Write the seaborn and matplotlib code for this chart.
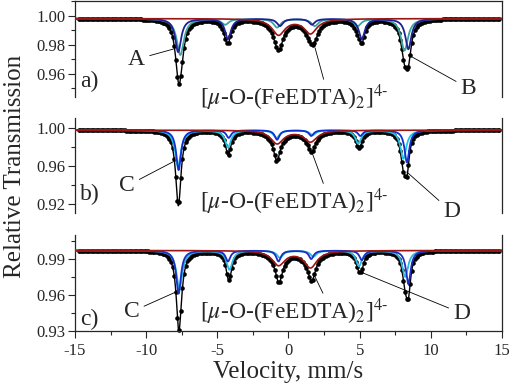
import numpy as np
import pandas as pd
import matplotlib
matplotlib.use("Agg")
import matplotlib.pyplot as plt
import seaborn as sns
from matplotlib.ticker import MultipleLocator, FormatStrFormatter

sns.set_style("ticks")
plt.rcParams['font.family'] = ['Liberation Serif', 'DejaVu Serif']
plt.rcParams['mathtext.fontset'] = 'stix'
plt.rcParams['axes.unicode_minus'] = False

# x axis
velocity_ticks = [-15, -10, -5, 0, 5, 10, 15]
panel_names = ["a)", "b)", "c)"]
label_a, label_b, label_c, label_d = "A", "B", "C", "D"

# --- panel a: line positions (mm/s), depths and half widths
a_baseline = 0.998
a_s1_pos = [-7.75, -4.25, -0.60, 1.65, 5.15, 8.42]
a_s1_depth = [0.023, 0.014, 0.005, 0.004, 0.014, 0.021]
a_s2_pos = [-7.60, -4.45, -0.80, 1.85, 4.85, 8.15]
a_s2_depth = [0.025, 0.004, 0.006, 0.005, 0.005, 0.022]
a_d_pos = [-0.70, 1.55]
a_d_depth = [0.011, 0.010]
a_hwhm = [0.25, 0.30, 0.55]

# --- panel b
b_baseline = 0.998
b_s1_pos = [-7.72, -4.20, -0.80, 1.60, 5.05, 8.32]
b_s1_depth = [0.042, 0.008, 0.010, 0.006, 0.006, 0.034]
b_s2_pos = [-7.76, -4.25, -0.85, 1.70, 4.90, 8.07]
b_s2_depth = [0.038, 0.018, 0.008, 0.005, 0.014, 0.030]
b_d_pos = [-0.80, 1.55]
b_d_depth = [0.014, 0.012]
b_hwhm = [0.20, 0.25, 0.55]

# --- panel c
c_baseline = 0.9972
c_s1_pos = [-7.72, -4.25, -0.70, 1.60, 5.15, 8.42]
c_s1_depth = [0.036, 0.009, 0.009, 0.007, 0.008, 0.028]
c_s2_pos = [-7.66, -4.15, -0.60, 1.75, 4.95, 8.20]
c_s2_depth = [0.032, 0.016, 0.006, 0.005, 0.013, 0.022]
c_d_pos = [-0.70, 1.55]
c_d_depth = [0.012, 0.014]
c_hwhm = [0.20, 0.25, 0.55]

# axis ranges and ticks
ylims = [(0.944, 1.010), (0.9108, 1.0108), (0.930, 1.010)]
yticks = [[0.96, 0.98, 1.00], [0.92, 0.96, 1.00], [0.93, 0.96, 0.99]]
yminor = [0.01, 0.02, 0.015]

sextet_colors = [("#1f1f96", "#3aa6a0"), ("#1030d0", "#22c4e6"), ("#1a2fc0", "#2fb8e4")]
red = "#9c1515"

panels = [
    (a_baseline, a_s1_pos, a_s1_depth, a_s2_pos, a_s2_depth, a_d_pos, a_d_depth, a_hwhm),
    (b_baseline, b_s1_pos, b_s1_depth, b_s2_pos, b_s2_depth, b_d_pos, b_d_depth, b_hwhm),
    (c_baseline, c_s1_pos, c_s1_depth, c_s2_pos, c_s2_depth, c_d_pos, c_d_depth, c_hwhm),
]


def lorentz_lines(v, pos, depth, w):
    out = np.zeros_like(v)
    for p, d in zip(pos, depth):
        out += d / (1 + ((v - p) / w) ** 2)
    return out


v_fit = np.linspace(-15, 15, 1200)
v_chan = np.linspace(-14.75, 14.8, 256)

fig = plt.figure(figsize=(5.17, 3.88), dpi=100)
boxes = [[0.145, 0.750, 0.826, 0.247],
         [0.145, 0.451, 0.826, 0.245],
         [0.145, 0.147, 0.826, 0.247]]

TICK_FS = 12
ANN_FS = 17

axes = []
for i, (base, s1p, s1d, s2p, s2d, dp, dd, hw) in enumerate(panels):
    ax = fig.add_axes(boxes[i])
    axes.append(ax)
    s1 = base - lorentz_lines(v_fit, s1p, s1d, hw[0])
    s2 = base - lorentz_lines(v_fit, s2p, s2d, hw[1])
    db = base - lorentz_lines(v_fit, dp, dd, hw[2])
    total = base - (lorentz_lines(v_fit, s1p, s1d, hw[0]) + lorentz_lines(v_fit, s2p, s2d, hw[1])
                    + lorentz_lines(v_fit, dp, dd, hw[2]))
    dots = base - (lorentz_lines(v_chan, s1p, s1d, hw[0]) + lorentz_lines(v_chan, s2p, s2d, hw[1])
                   + lorentz_lines(v_chan, dp, dd, hw[2]))

    ax.plot(v_chan, dots, 'o', color='black', ms=3.3, mew=0, clip_on=False, zorder=2)
    sns.lineplot(x=v_fit, y=total, ax=ax, color='black', lw=1.0, zorder=3)
    sns.lineplot(x=v_fit, y=s2, ax=ax, color=sextet_colors[i][1], lw=1.3, zorder=4)
    sns.lineplot(x=v_fit, y=s1, ax=ax, color=sextet_colors[i][0], lw=1.3, zorder=5)
    sns.lineplot(x=v_fit, y=db, ax=ax, color=red, lw=1.2, zorder=6)

    ax.set_xlim(-15, 15)
    ax.set_ylim(*ylims[i])
    ax.set_yticks(yticks[i])
    ax.yaxis.set_minor_locator(MultipleLocator(yminor[i]))
    ax.yaxis.set_major_formatter(FormatStrFormatter('%.2f'))
    ax.tick_params(axis='y', which='major', direction='out', length=5, width=0.8, labelsize=TICK_FS, pad=2)
    ax.tick_params(axis='y', which='minor', direction='out', length=3, width=0.8)
    ax.tick_params(axis='y', which='both', right=False)
    for s in ax.spines.values():
        s.set_linewidth(0.9)
    ax.spines['top'].set_visible(i == 0)
    ax.spines['bottom'].set_visible(i == 2)
    if i < 2:
        ax.tick_params(axis='x', which='both', bottom=False, labelbottom=False)
    else:
        ax.set_xticks(velocity_ticks)
        ax.xaxis.set_minor_locator(MultipleLocator(2.5))
        ax.tick_params(axis='x', which='major', direction='out', length=5, width=0.8, labelsize=TICK_FS, pad=4)
        ax.tick_params(axis='x', which='minor', direction='out', length=3, width=0.8)
    ax.set_xlabel('')
    ax.set_ylabel('')
    ax.text(0.012, [0.16, 0.19, 0.115][i], panel_names[i], transform=ax.transAxes,
            fontsize=ANN_FS, ha='left', va='center')

arrow = dict(arrowstyle='-', color='black', lw=0.6, shrinkA=1, shrinkB=0)
complex_label = r"[$\mu$-O-(FeEDTA)$_2$]$^{4\text{-}}$"

ax = axes[0]
ax.annotate(label_a, xy=(-8.09, 0.977), xytext=(-10.67, 0.970), fontsize=ANN_FS,
            ha='center', va='center', arrowprops=arrow)
ax.annotate(label_b, xy=(8.42, 0.973), xytext=(12.64, 0.950), fontsize=ANN_FS,
            ha='center', va='center', arrowprops=arrow)
ax.annotate(complex_label, xy=(1.87, 0.9777), xytext=(-6.2, 0.9434), fontsize=ANN_FS,
            ha='left', va='center', annotation_clip=False,
            arrowprops=dict(arrowstyle='-', color='black', lw=0.6, shrinkA=0, shrinkB=0,
                            relpos=(0.66, 1.0)))

ax = axes[1]
ax.annotate(label_c, xy=(-8.09, 0.9648), xytext=(-11.35, 0.9393), fontsize=ANN_FS,
            ha='center', va='center', arrowprops=arrow)
ax.annotate(label_d, xy=(8.31, 0.954), xytext=(11.47, 0.912), fontsize=ANN_FS,
            ha='center', va='center', arrowprops=arrow)
ax.annotate(complex_label, xy=(1.63, 0.9754), xytext=(-6.2, 0.9224), fontsize=ANN_FS,
            ha='left', va='center', annotation_clip=False,
            arrowprops=dict(arrowstyle='-', color='black', lw=0.6, shrinkA=0, shrinkB=0,
                            relpos=(0.66, 1.0)))

ax = axes[2]
ax.annotate(label_c, xy=(-7.86, 0.9628), xytext=(-11.02, 0.946), fontsize=ANN_FS,
            ha='center', va='center', arrowprops=arrow)
ax.annotate(label_d, xy=(5.03, 0.9794), xytext=(12.17, 0.9447), fontsize=ANN_FS,
            ha='center', va='center', arrowprops=arrow)
ax.annotate(complex_label, xy=(1.75, 0.978), xytext=(-6.2, 0.946), fontsize=ANN_FS,
            ha='left', va='center', annotation_clip=False,
            arrowprops=dict(arrowstyle='-', color='black', lw=0.6, shrinkA=0, shrinkB=0,
                            relpos=(0.66, 1.0)))

fig.text(0.029, 0.572, 'Relative Transmission', rotation=90, ha='center', va='center', fontsize=18)
fig.text(0.557, 0.040, 'Velocity, mm/s', ha='center', va='center', fontsize=18)

fig.savefig('out.png', dpi=100)
